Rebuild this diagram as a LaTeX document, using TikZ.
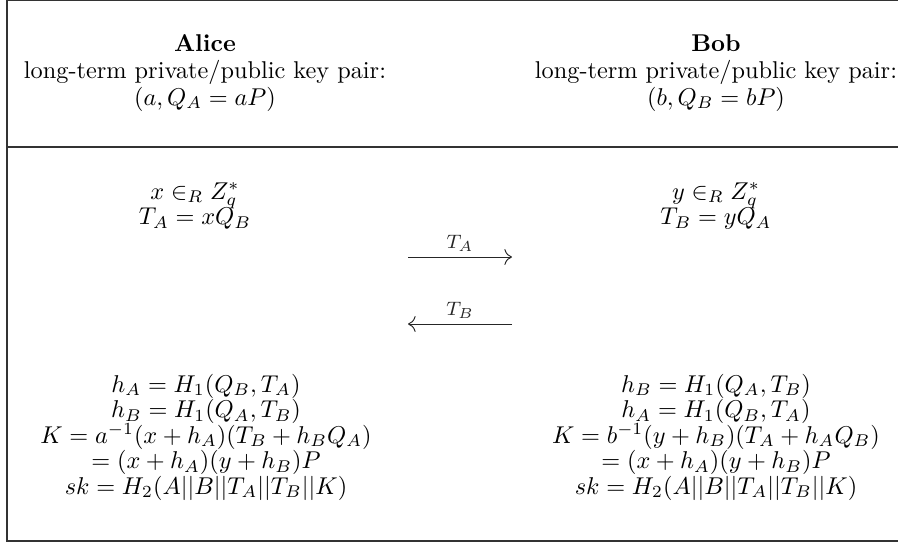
\documentclass[tikz,border=0pt]{standalone}
\usepackage{amsmath,amssymb}
\usetikzlibrary{positioning,arrows.meta}

\begin{document}
\begin{tikzpicture}[x=0.4115pt,y=-0.4115pt,>={To[length=1.1mm]},
  party/.style={align=center,inner sep=0pt},
  rule/.style={line width=0.45pt,black!80},
  msg/.style={->,line width=0.4pt,black!85}]
\useasboundingbox (0,0) rectangle (898,547);
% frame
\draw[rule] (898,0.5) -- (7,0.5) -- (7,541) -- (898,541);
\draw[rule] (7,147) -- (898,147);
% headers
\node[party] (alice) at (205,73) {\textbf{Alice}\\[-1pt]long-term private/public key pair:\\[-1pt]$(a,Q_A=aP)$};
\node[party] (bob) at (716,73) {\textbf{Bob}\\[-1pt]long-term private/public key pair:\\[-1pt]$(b,Q_B=bP)$};
% ephemeral keys
\node[party] (alicetmp) at (195,206) {$x\in_R Z_q^*$\\[-1.5pt]$T_A=xQ_B$};
\node[party] (bobtmp) at (716,206) {$y\in_R Z_q^*$\\[-1.5pt]$T_B=yQ_A$};
% messages
\coordinate (tal) at (408,257);
\coordinate (tar) at (512,257);
\coordinate (tbl) at (408,324);
\coordinate (tbr) at (512,324);
\draw[msg] (tal) -- node[above,font=\footnotesize,inner sep=2pt]{$T_A$} (tar);
\draw[msg] (tbr) -- node[above,font=\footnotesize,inner sep=2pt]{$T_B$} (tbl);
% session keys
\node[party] (alicekey) at (206,437) {$h_A=H_1(Q_B,T_A)$\\[-1.5pt]$h_B=H_1(Q_A,T_B)$\\[-1.5pt]$K=a^{-1}(x+h_A)(T_B+h_BQ_A)$\\[-1.5pt]$=(x+h_A)(y+h_B)P$\\[-1.5pt]$sk=H_2(A||B||T_A||T_B||K)$};
\node[party] (bobkey) at (716,437) {$h_B=H_1(Q_A,T_B)$\\[-1.5pt]$h_A=H_1(Q_B,T_A)$\\[-1.5pt]$K=b^{-1}(y+h_B)(T_A+h_AQ_B)$\\[-1.5pt]$=(x+h_A)(y+h_B)P$\\[-1.5pt]$sk=H_2(A||B||T_A||T_B||K)$};
\end{tikzpicture}
\end{document}
